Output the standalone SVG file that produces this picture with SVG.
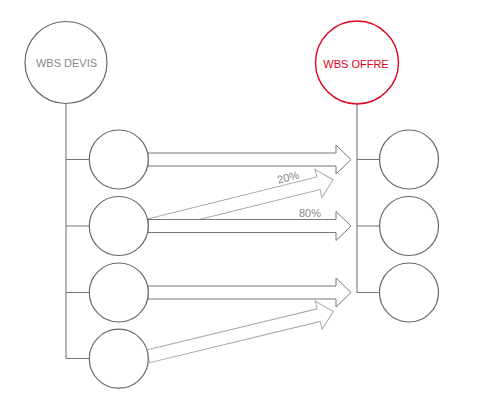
<svg xmlns="http://www.w3.org/2000/svg" width="480" height="416" viewBox="0 0 480 416">
<defs>
<style>
.node{fill:#fff;stroke:#666;stroke-width:1.2}
.red{fill:#fff;stroke:#e2001a;stroke-width:1.4}
.tree{fill:none;stroke:#777;stroke-width:1.1}
.arr{fill:#fff;stroke:#777;stroke-width:1}
.darr{fill:#fff;stroke:#aaa;stroke-width:1}
.lbl{font-family:"Liberation Sans",Arial,sans-serif;font-size:11px;fill:#888;text-anchor:middle}
.pct{font-family:"Liberation Sans",Arial,sans-serif;font-size:11px;fill:#888;text-anchor:middle}
</style>
<polygon id="harrow" points="0,-6.5 188,-6.5 188,-14.5 203,0 188,14.5 188,6.5 0,6.5"/>
<polygon id="darrow" points="0,-6.5 175.6,-6.5 175.6,-14.5 190.6,0 175.6,14.5 175.6,6.5 0,6.5"/>
</defs>
<rect width="480" height="416" fill="#fff"/>
<g id="connectors">
<path class="tree" d="M66,103 V358.5 M66,159.5 H89 M66,226 H89 M66,292.5 H89 M66,358.5 H89"/>
<path class="tree" d="M357,104 V292.5 M357,159.5 H379 M357,226 H379 M357,292.5 H379"/>
<use href="#darrow" class="darr" transform="translate(148,225.5) rotate(-13.9)"/>
<use href="#darrow" class="darr" transform="translate(148,356.4) rotate(-13.6)"/>
<use href="#harrow" class="arr" transform="translate(148,159.5)"/>
<use href="#harrow" class="arr" transform="translate(148,226)"/>
<use href="#harrow" class="arr" transform="translate(148,292.5)"/>
<text class="pct" transform="translate(289,181) rotate(-13.9)">20%</text>
<text class="pct" x="310" y="216.5">80%</text>
</g>
<g id="wbs-devis">
<circle class="node" cx="66" cy="62.5" r="41"/>
<text class="lbl" x="66.5" y="67">WBS DEVIS</text>
</g>
<g id="wbs-offre">
<circle class="red" cx="357" cy="62.5" r="41.5"/>
<text class="lbl" x="356" y="67.5" style="fill:#e2001a">WBS OFFRE</text>
</g>
<g id="devis-1"><circle class="node" cx="118.8" cy="159.5" r="29.5"/></g>
<g id="devis-2"><circle class="node" cx="118.8" cy="226" r="29.5"/></g>
<g id="devis-3"><circle class="node" cx="118.8" cy="292.5" r="29.5"/></g>
<g id="devis-4"><circle class="node" cx="118.8" cy="358.7" r="29.5"/></g>
<g id="offre-1"><circle class="node" cx="409" cy="159.5" r="29.5"/></g>
<g id="offre-2"><circle class="node" cx="409" cy="226" r="29.5"/></g>
<g id="offre-3"><circle class="node" cx="409" cy="292.5" r="29.5"/></g>
</svg>
